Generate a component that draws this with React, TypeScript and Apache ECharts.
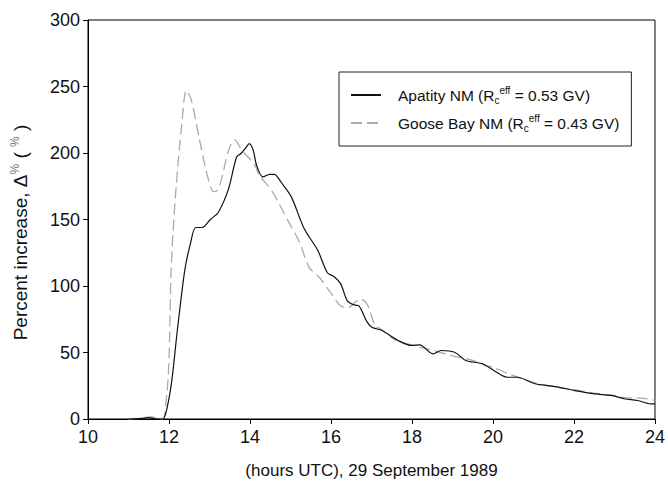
import React, { useEffect, useRef } from "react";
import * as echarts from "echarts";

const xTicks = [10, 12, 14, 16, 18, 20, 22, 24];
const yTicks = [0, 50, 100, 150, 200, 250, 300];

const apatityHours = [11.0, 11.3, 11.5, 11.7, 11.85, 11.95, 12.07, 12.2, 12.39, 12.53, 12.66, 12.82, 13.02, 13.22, 13.47, 13.67, 13.79, 13.9, 13.98, 14.08, 14.16, 14.32, 14.49, 14.6, 14.77, 15.02, 15.34, 15.67, 15.91, 16.08, 16.24, 16.4, 16.55, 16.69, 16.89, 17.01, 17.26, 17.66, 17.99, 18.19, 18.52, 18.72, 19.05, 19.33, 19.74, 20.02, 20.35, 20.6, 21.04, 21.53, 22.02, 22.51, 22.92, 23.24, 23.57, 23.9, 24.0];
const apatityValues = [0, 0.5, 1, 0, 0, 8, 29, 65, 112, 132, 144, 144, 150, 155.5, 173, 197, 200, 204, 207, 202, 191, 182, 184, 184, 178, 167, 143, 127, 110, 107, 101.6, 89, 86, 85, 73, 69, 66.5, 59, 55.3, 55.8, 49, 51.5, 50.2, 44, 41.5, 36.5, 31.4, 31.4, 26.5, 24.4, 21.4, 18.9, 17.7, 15.2, 13.9, 11.4, 11.4];

const gooseHours = [11.0, 11.3, 11.55, 11.75, 11.85, 11.95, 12.0, 12.05, 12.1, 12.18, 12.31, 12.43, 12.55, 12.74, 12.94, 13.1, 13.2, 13.31, 13.47, 13.62, 13.8, 13.95, 14.1, 14.24, 14.53, 14.75, 14.94, 15.22, 15.46, 15.71, 15.99, 16.24, 16.44, 16.6, 16.73, 16.85, 16.93, 17.09, 17.21, 17.54, 18.03, 18.36, 18.84, 19.13, 19.5, 19.82, 19.99, 20.43, 21.0, 21.5, 22.0, 22.5, 23.0, 23.32, 23.53, 23.81, 24.0];
const gooseValues = [0, 0.5, 1.5, 0.5, 0, 20, 45, 110, 140, 176, 220, 247, 240, 212, 184, 171, 172, 182, 202, 210, 202, 197, 192, 183, 172, 160, 149, 133, 114, 106.6, 95, 85, 84, 88, 90, 88, 84, 70, 68, 60.3, 55.3, 52.8, 49, 46.5, 44, 40.2, 39, 33.5, 27.5, 24.5, 22, 19.5, 17.5, 15.9, 15.9, 15.2, 13.9];

const seriesNames = ["Apatity NM", "Goose Bay NM"];
const legendLabels: Record<string, string> = {
  "Apatity NM": "{f|Apatity NM (R}{sub|c}{sup|eff}{t| = 0.53 GV)}",
  "Goose Bay NM": "{f|Goose Bay NM (R}{sub|c}{sup|eff}{t| = 0.43 GV)}",
};

const FONT = "Liberation Sans, Arial, sans-serif";

export default function App() {
  const ref = useRef<HTMLDivElement>(null);
  useEffect(() => {
    if (!ref.current) return;
    const chart = echarts.init(ref.current, undefined, { renderer: "svg" });
    const apatity = apatityHours.map((h, i) => [h, apatityValues[i]]);
    const goose = gooseHours.map((h, i) => [h, gooseValues[i]]);
    chart.setOption({
      animation: false,
      backgroundColor: "#fff",
      textStyle: { fontFamily: FONT },
      grid: {
        left: 88,
        right: 7,
        top: 20,
        bottom: 68,
        show: true,
        borderColor: "#000",
        borderWidth: 1,
      },
      legend: {
        show: true,
        orient: "vertical",
        left: 339,
        top: 72,
        data: seriesNames,
        backgroundColor: "#fff",
        borderColor: "#222",
        borderWidth: 1,
        padding: [13, 12, 13, 11],
        itemWidth: 30,
        itemHeight: 14,
        itemGap: 8,
        itemStyle: { opacity: 0, borderWidth: 0, color: "transparent" },
        formatter: (name: string) => legendLabels[name],
        textStyle: {
          fontFamily: FONT,
          fontSize: 15.5,
          color: "#111",
          rich: {
            f: { fontSize: 15.5, fontFamily: FONT, color: "#111", lineHeight: 20, padding: [0, 0, 0, 12] },
            t: { fontSize: 15.5, fontFamily: FONT, color: "#111", lineHeight: 20 },
            sub: { fontSize: 10, fontFamily: FONT, color: "#111", verticalAlign: "bottom", lineHeight: 20, padding: [7, 0, 0, 0] },
            sup: { fontSize: 10, fontFamily: FONT, color: "#111", verticalAlign: "top", lineHeight: 20, padding: [0, 0, 9, 0] },
          },
        },
      },
      xAxis: {
        type: "value",
        min: 10,
        max: 24,
        interval: 2,
        name: "(hours UTC), 29 September 1989",
        nameLocation: "middle",
        nameGap: 43,
        nameTextStyle: { fontFamily: FONT, fontSize: 17, color: "#111" },
        axisLine: { show: true, lineStyle: { color: "#000", width: 1 } },
        axisTick: { show: true, inside: false, length: 5, lineStyle: { color: "#000" } },
        axisLabel: { fontFamily: FONT, fontSize: 18, color: "#111", margin: 9, formatter: (v: number) => (xTicks.includes(v) ? String(v) : "") },
        splitLine: { show: false },
      },
      yAxis: {
        type: "value",
        min: 0,
        max: 300,
        interval: 50,
        name: "Percent increase, Δ{p|%} ( {p|%} )",
        nameLocation: "middle",
        nameGap: 57,
        nameTextStyle: {
          fontFamily: FONT,
          fontSize: 19,
          color: "#111",
          padding: [0, 26, 0, 0],
          rich: { p: { fontFamily: FONT, fontSize: 12, color: "#777", verticalAlign: "top", lineHeight: 22 } },
        },
        axisLine: { show: true, lineStyle: { color: "#000", width: 1 } },
        axisTick: { show: true, inside: false, length: 5, lineStyle: { color: "#000" } },
        axisLabel: { fontFamily: FONT, fontSize: 18, color: "#111", margin: 8, formatter: (v: number) => (yTicks.includes(v) ? String(v) : "") },
        splitLine: { show: false },
      },
      series: [
        {
          name: seriesNames[0],
          type: "line",
          data: apatity,
          smooth: 0.3,
          symbol: "none",
          lineStyle: { color: "#111", width: 1.2, type: "solid" },
          itemStyle: { color: "#111" },
          z: 3,
        },
        {
          name: seriesNames[1],
          type: "line",
          data: goose,
          smooth: 0.3,
          symbol: "none",
          lineStyle: { color: "#aaa", width: 1.3, type: [11, 5] },
          itemStyle: { color: "#aaa" },
          z: 2,
        },
      ],
    });
    return () => chart.dispose();
  }, []);
  return <div ref={ref} style={{ position: "fixed", left: 0, top: 0, width: 668, height: 487 }} />;
}
